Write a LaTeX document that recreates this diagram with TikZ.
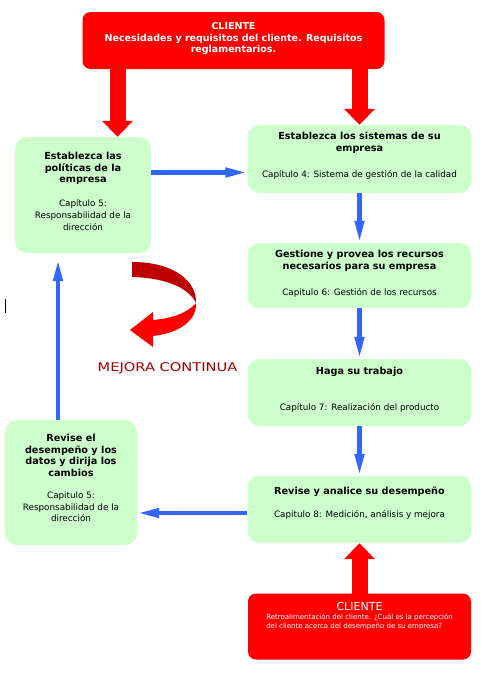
\documentclass[tikz,border=0pt]{standalone}
\usepackage{fontspec}
\usepackage{graphicx}
\setmainfont{DejaVu Sans}
\usetikzlibrary{arrows.meta,positioning}
\definecolor{verde}{RGB}{204,255,204}
\definecolor{rojo}{RGB}{255,0,0}
\definecolor{rojooscuro}{RGB}{190,0,0}
\definecolor{azul}{RGB}{51,102,255}
\definecolor{granate}{RGB}{160,0,0}

\tikzset{
  paso/.style={fill=verde, rounded corners=12pt, minimum width=224pt, minimum height=67pt, inner sep=0pt},
  cliente/.style={fill=rojo, rounded corners=8pt, inner sep=0pt},
  texto/.style={align=center, inner sep=0pt, font=\fontsize{8.8}{11.7}\selectfont},
  flecharoja/.style={draw=rojo, line width=16pt, -{Triangle[length=16pt,width=30pt]}},
  flechaazul/.style={draw=azul, line width=4.5pt, -{Triangle[length=22pt,width=9pt]}},
}
\newcommand{\titulo}[1]{{\fontsize{9.7}{11.7}\selectfont\textbf{#1}}}

\begin{document}
\begin{tikzpicture}[x=1pt,y=-1pt]
  \useasboundingbox (0,0) rectangle (480,673);

  % cajas
  \node[cliente, minimum width=302pt, minimum height=57pt] (necesidades) at (233.5,40.5) {};
  \node[paso, minimum width=136pt, minimum height=116pt] (politicas) at (83,195) {};
  \node[paso, minimum height=68pt] (sistemas) at (359.5,159) {};
  \node[paso, minimum height=65pt] (recursos) at (359.5,275.5) {};
  \node[paso] (trabajo) at (359.5,392.5) {};
  \node[paso] (revise) at (359.5,509.5) {};
  \node[paso, minimum width=132pt, minimum height=125pt] (revisedir) at (71,482.5) {};
  \node[cliente, minimum width=223pt, minimum height=66pt] (retro) at (359.5,626.5) {};

  % textos
  \node[texto, text=white, font=\bfseries\fontsize{9.5}{11.7}\selectfont, below=10.5pt of necesidades.north]
    {CLIENTE\\Necesidades y requisitos del cliente. Requisitos\\reglamentarios.};
  \node[texto, below=15pt of politicas.north]
    {\titulo{Establezca las}\\\titulo{políticas de la}\\\titulo{empresa}\\[12.3pt]
     Capítulo 5:\\Responsabilidad de la\\dirección};
  \node[texto, below=7pt of sistemas.north]
    {\titulo{Establezca los sistemas de su}\\\titulo{empresa}\\[14.3pt]
     Capítulo 4: Sistema de gestión de la calidad};
  \node[texto, below=7.5pt of recursos.north]
    {\titulo{Gestione y provea los recursos}\\\titulo{necesarios para su empresa}\\[14.3pt]
     Capitulo 6: Gestión de los recursos};
  \node[texto, below=8pt of trabajo.north]
    {\titulo{Haga su trabajo}\\[24.3pt]
     Capítulo 7: Realización del producto};
  \node[texto, below=10.5pt of revise.north]
    {\titulo{Revise y analice su desempeño}\\[11.3pt]
     Capitulo 8: Medición, análisis y mejora};
  \node[texto, below=14pt of revisedir.north]
    {\titulo{Revise el}\\\titulo{desempeño y los}\\\titulo{datos y dirija los}\\\titulo{cambios}\\[10.3pt]
     Capitulo 5:\\Responsabilidad de la\\dirección};
  \node[texto, text=white, font=\fontsize{11}{12}\selectfont, below=9pt of retro.north] (clientetit) {CLIENTE};
  \node[texto, text=white, align=left, font=\fontsize{7}{9.5}\selectfont, below=2.5pt of clientetit]
    {Retroalimentación del cliente. ¿Cuál es la percepción\\del cliente acerca del desempeño de su empresa?};

  % flechas
  \coordinate (xizq) at (117.5,0);
  \coordinate (xsube) at (58,0);
  \coordinate (yarriba) at (0,172.5);
  \coordinate (yabajo) at (0,513);
  \draw[flecharoja] ([yshift=2pt]necesidades.south -| xizq) -- (politicas.north -| xizq);
  \draw[flecharoja] ([yshift=2pt]necesidades.south -| sistemas.north) -- (sistemas.north);
  \draw[flecharoja] ([yshift=-2pt]retro.north) -- (revise.south);
  \draw[flechaazul] (politicas.east |- yarriba) -- (sistemas.west |- yarriba);
  \draw[flechaazul] (sistemas.south) -- (recursos.north);
  \draw[flechaazul] (recursos.south) -- (trabajo.north);
  \draw[flechaazul] (trabajo.south) -- (revise.north);
  \draw[flechaazul] (revise.west |- yabajo) -- (revisedir.east |- yabajo);
  \draw[flechaazul, shorten >=6pt] (revisedir.north -| xsube) -- (politicas.south -| xsube);

  % mejora continua
  \fill[rojooscuro] (132,262) .. controls (175,262) and (197,282) .. (196,303)
    .. controls (190,290) and (170,278) .. (132,277) -- cycle;
  \fill[rojo] (196,303) .. controls (197,320) and (180,333) .. (153,336) -- (153,347) -- (130,330)
    -- (153,312) -- (153,320) .. controls (175,318) and (188,312) .. (196,303) -- cycle;
  \node[text=granate, font=\fontsize{12}{13}\selectfont] (mejora) at (167.5,368) {\scalebox{1.22}[1]{MEJORA CONTINUA}};

  \draw[line width=0.7pt] (5,299) -- (5,313);
\end{tikzpicture}
\end{document}
